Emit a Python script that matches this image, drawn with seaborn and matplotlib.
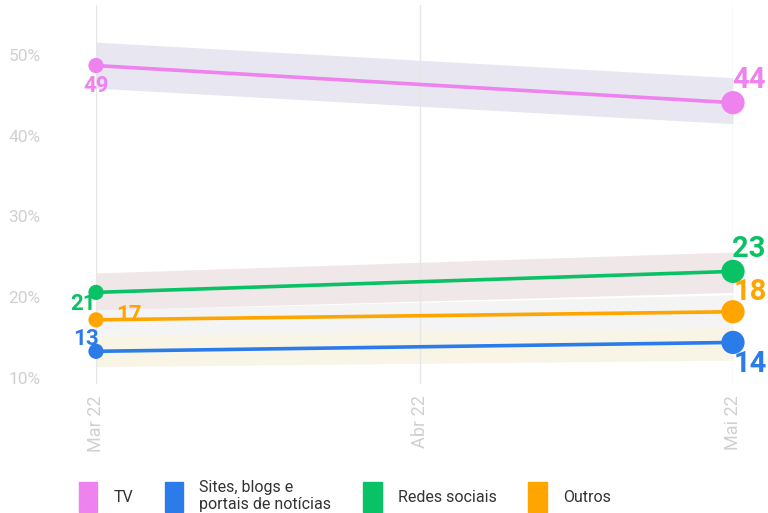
import pandas as pd
import matplotlib.pyplot as plt
import seaborn as sns
from matplotlib.patches import Patch

sns.set_theme(style='white')
plt.rcParams['font.family'] = ['Roboto', 'DejaVu Sans']

# Data
months = ['Mar 22', 'Abr 22', 'Mai 22']
month_dates = pd.to_datetime(['2022-03-01', '2022-04-01', '2022-05-01'])
survey_dates = pd.to_datetime(['2022-03-01', '2022-05-01'])
series = ['TV', 'Sites, blogs e\nportais de notícias', 'Redes sociais', 'Outros']
colors = ['#ee82ee', '#2b7be9', '#0ac266', '#ffa500']
band_colors = ['#e8e6f0', '#f8f5e7', '#efe7e8', '#f4f4f4']

tv = [48.7, 44.1]
sites = [13.3, 14.4]
redes = [20.6, 23.2]
outros = [17.2, 18.2]

tv_lo, tv_hi = [45.9, 41.5], [51.6, 47.2]
sites_lo, sites_hi = [11.4, 12.2], [15.3, 16.3]
redes_lo, redes_hi = [18.4, 20.6], [23.0, 25.6]
outros_lo, outros_hi = [15.3, 16.3], [18.4, 20.3]

values = [tv, sites, redes, outros]
lows = [tv_lo, sites_lo, redes_lo, outros_lo]
highs = [tv_hi, sites_hi, redes_hi, outros_hi]

rows = []
for name, vals in zip(series, values):
    for i, (d, v) in enumerate(zip(survey_dates, vals)):
        rows.append({'serie': name, 'data': d, 'valor': v, 'size': 'end' if i == 1 else 'start'})
df = pd.DataFrame(rows)

fig = plt.figure(figsize=(7.68, 5.13), dpi=100)
ax = fig.add_axes([96 / 768, 1 - 384 / 513, (733 - 96) / 768, (384 - 5) / 513])

# confidence bands
for lo, hi, bc in zip(lows, highs, band_colors):
    ax.fill_between(survey_dates, lo, hi, color=bc, lw=0, zorder=0.5)

sns.lineplot(data=df, x='data', y='valor', hue='serie', palette=colors,
             linewidth=2.6, legend=False, ax=ax, zorder=3)
sns.scatterplot(data=df, x='data', y='valor', hue='serie', palette=colors,
                size='size', sizes={'start': 120, 'end': 280}, linewidth=0,
                legend=False, ax=ax, zorder=4, clip_on=False)

# value labels: (offset at Mar, offset at Mai) in pixels
offsets = [((0, -20), (16, 23)),
           ((-10, 12), (17, -22)),
           ((-13, -12), (16, 22)),
           ((33, 5), (17, 20))]
for vals, col, offs in zip(values, colors, offsets):
    for i, (d, v) in enumerate(zip(survey_dates, vals)):
        ax.annotate(f'{v:.0f}', (d, v), xytext=offs[i], textcoords='offset pixels',
                    ha='center', va='center', color=col, fontweight='bold',
                    fontsize=16 if i == 0 else 21, zorder=5)

ax.set_xlim(survey_dates[0], survey_dates[1])
ax.set_ylim(9.25, 56.2)
ax.set_xticks(month_dates)
ax.set_xticklabels(months, rotation=90, color='#d0d0d0', fontsize=13)
ax.set_yticks([10, 20, 30, 40, 50])
ax.set_yticklabels([f'{t}%' for t in [10, 20, 30, 40, 50]], color='#d0d0d0',
                   fontsize=12.5)
ax.tick_params(axis='x', length=0, pad=8)
ax.tick_params(axis='y', length=0, pad=63)
for lab in ax.get_yticklabels():
    lab.set_horizontalalignment('left')
ax.grid(axis='x', color='#e6e6e6', lw=1, zorder=1)
ax.grid(axis='y', visible=False)
ax.set_xlabel('')
ax.set_ylabel('')
sns.despine(ax=ax, left=True, bottom=True)

handles = [Patch(color=c) for c in colors]
fig.legend(handles, series, loc='center left', bbox_to_anchor=(71 / 768, 1 - 496 / 513),
           ncol=4, frameon=False, fontsize=11.5, handlelength=1.15, handleheight=2.5,
           handletextpad=1.0, columnspacing=2.0, borderpad=0, labelcolor='#333333')

fig.savefig('out.png', dpi=100)
